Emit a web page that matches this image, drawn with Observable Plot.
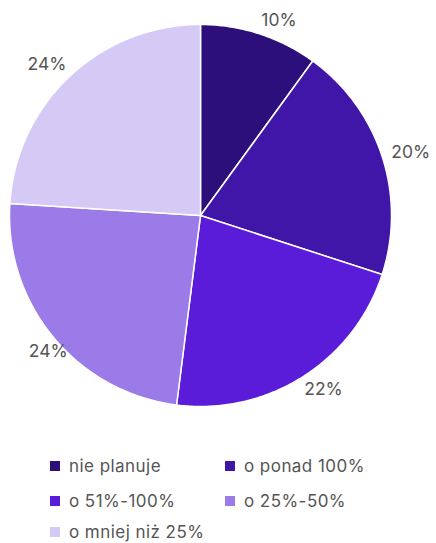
<!DOCTYPE html>
<html><head><meta charset="utf-8">
<script src="https://cdn.jsdelivr.net/npm/d3@7"></script>
<script src="https://cdn.jsdelivr.net/npm/@observablehq/plot@0.6"></script>
<style>
body{margin:0;background:#fff;font-family:Inter,"Open Sans",sans-serif;overflow:hidden;}
#legend{position:absolute;left:0;top:448px;width:436px;}
.item{position:absolute;display:flex;align-items:center;font-size:17px;letter-spacing:0.45px;color:#555;white-space:nowrap;line-height:16px;height:16px;}
.sw{width:10px;height:10px;margin-right:9px;}
</style></head>
<body>
<div id="chart"></div>
<div id="legend"></div>
<script>
const categories = ["nie planuje","o ponad 100%","o 51%-100%","o 25%-50%","o mniej niż 25%"];
const values = [10,20,22,24,24];
const colors = ["#2d0f7c","#4016a9","#5a1cd8","#9b7be8","#d5c9f5"];

const cx=200, cy=215, R=191;
const nudges = [[0,0],[0,0],[-2,1],[6,5],[-13,-1]];
const pie = d3.pie().sort(null).value(d=>d.value)(categories.map((c,i)=>({cat:c,value:values[i],color:colors[i]})));
const pts = [];
pie.forEach(s=>{
  pts.push({cat:s.data.cat,x:0,y:0});
  const n = Math.max(2, Math.ceil((s.endAngle-s.startAngle)/0.01));
  for(let k=0;k<=n;k++){const a=s.startAngle+(s.endAngle-s.startAngle)*k/n;pts.push({cat:s.data.cat,x:Math.sin(a),y:Math.cos(a)});}
});
const labels = pie.map((s,i)=>{const a=(s.startAngle+s.endAngle)/2;const r=1.075;const right=Math.sin(a)>0;
  return {x:Math.sin(a)*r+(nudges[i][0]+(right?15:0))/R,y:Math.cos(a)*r-nudges[i][1]/R,t:s.data.value+"%"};});
const chart = Plot.plot({
  width:436,height:445,margin:0,
  x:{domain:[-1,1],range:[cx-R,cx+R],axis:null},
  y:{domain:[-1,1],range:[cy+R,cy-R],axis:null},
  color:{domain:categories,range:colors},
  marks:[
    Plot.line(pts,{x:"x",y:"y",z:"cat",fill:"cat",stroke:"white",strokeWidth:1.5,curve:"linear-closed"}),
    Plot.text(labels,{x:"x",y:"y",text:"t",fontSize:17.5,fill:"#555",fontFamily:"Inter, sans-serif",letterSpacing:1.2})
  ]
});
document.getElementById("chart").appendChild(chart);
const leg=document.getElementById("legend");
const pos=[[50,10],[225,10],[50,45],[225,45],[50,76]];
categories.forEach((c,i)=>{const d=document.createElement("div");d.className="item";d.style.left=pos[i][0]+"px";d.style.top=pos[i][1]+"px";d.innerHTML=`<span class="sw" style="background:${colors[i]}"></span>${c}`;leg.appendChild(d);});
</script>
</body></html>
